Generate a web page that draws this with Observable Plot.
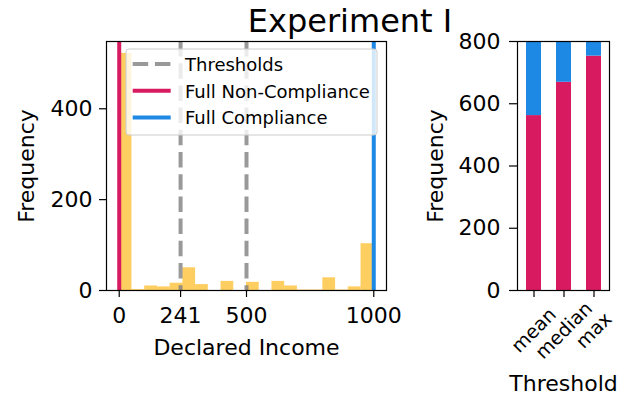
<!DOCTYPE html>
<html>
<head>
<meta charset="utf-8">
<script src="https://cdn.jsdelivr.net/npm/d3@7"></script>
<script src="https://cdn.jsdelivr.net/npm/@observablehq/plot@0.6"></script>
<style>
  html, body { margin: 0; padding: 0; background: #fff; }
  #wrap { position: relative; width: 630px; height: 399px; overflow: hidden; font-family: "DejaVu Sans", sans-serif; }
  #wrap > svg { position: absolute; left: 0; top: 0; }
</style>
</head>
<body>
<div id="wrap"></div>
<script>
// ---- Data ----
const binLower = [0, 50, 100, 150, 200, 250, 300, 350, 400, 450, 500, 550, 600, 650, 700, 750, 800, 850, 900, 950];
const binUpper = [50, 100, 150, 200, 250, 300, 350, 400, 450, 500, 550, 600, 650, 700, 750, 800, 850, 900, 950, 1000];
const binCounts = [522, 2, 10, 8, 16, 50, 13, 0, 20, 0, 18, 0, 20, 10, 1, 1, 28, 1, 8, 103];
const thresholdValues = [241, 500];
const nonComplianceIncome = [0];
const complianceIncome = [1000];
const incomeTicks = [0, 241, 500, 1000];
const freqTicksLeft = [0, 200, 400];

const thresholdNames = ["mean", "median", "max"];
const nonComplianceCounts = [562, 669, 753];
const complianceCounts = [238, 131, 47];
const freqTicksRight = [0, 200, 400, 600, 800];

const legendLabels = ["Thresholds", "Full Non-Compliance", "Full Compliance"];
const titleText = "Experiment I";

// ---- Styles ----
const RED = "#D81B60", BLUE = "#1E88E5", ORANGE = "#FFB000", GRAY = "#808080";
const FONT = "DejaVu Sans";

const hist = binCounts.map((c, i) => ({lo: binLower[i], hi: binUpper[i], count: c}));
const stacked = [];
thresholdNames.forEach((t, i) => {
  stacked.push({threshold: t, kind: "Full Non-Compliance", value: nonComplianceCounts[i]});
  stacked.push({threshold: t, kind: "Full Compliance", value: complianceCounts[i]});
});

const wrap = document.getElementById("wrap");
const baseStyle = {fontFamily: FONT, fontSize: "22px", background: "transparent", color: "#000", overflow: "visible"};

const left = Plot.plot({
  width: 630, height: 399,
  marginLeft: 106, marginRight: 244, marginTop: 41, marginBottom: 109,
  style: baseStyle,
  x: {domain: [-50, 1050]},
  y: {domain: [0, d3.max(binCounts) * 1.05]},
  marks: [
    Plot.rectY(hist, {x1: "lo", x2: "hi", y: "count", fill: ORANGE, fillOpacity: 0.62}),
    Plot.ruleX(thresholdValues, {stroke: GRAY, strokeOpacity: 0.8, strokeWidth: 4, strokeDasharray: "15.5,6.7"}),
    Plot.ruleX(nonComplianceIncome, {stroke: RED, strokeWidth: 4}),
    Plot.ruleX(complianceIncome, {stroke: BLUE, strokeWidth: 4}),
    Plot.axisX({ticks: incomeTicks, tickFormat: d => String(d), tickSize: 7, tickPadding: 10, strokeWidth: 1.2,
      label: "Declared Income", labelAnchor: "center", labelArrow: "none", labelOffset: 64}),
    Plot.axisY({ticks: freqTicksLeft, tickFormat: d => String(d), tickSize: 7, tickPadding: 7, strokeWidth: 1.2,
      label: "Frequency", labelAnchor: "center", labelArrow: "none", labelOffset: 88}),
    Plot.frame({stroke: "#000", strokeWidth: 1.2})
  ]
});
wrap.appendChild(left);

const right = Plot.plot({
  width: 630, height: 399,
  marginLeft: 517, marginRight: 21, marginTop: 41, marginBottom: 109,
  style: baseStyle,
  x: {domain: thresholdNames, paddingInner: 0.5, paddingOuter: 0.25},
  y: {domain: [0, 800]},
  color: {domain: ["Full Non-Compliance", "Full Compliance"], range: [RED, BLUE]},
  marks: [
    Plot.barY(stacked, {x: "threshold", y: "value", fill: "kind", inset: 0}),
    Plot.axisX({tickSize: 7, tickFormat: () => "", strokeWidth: 1.2,
      label: "Threshold", labelAnchor: "center", labelArrow: "none", labelOffset: 100}),
    Plot.text(thresholdNames, {x: d => d, text: d => d, frameAnchor: "bottom", dy: 40, rotate: -45,
      fontSize: 19, textAnchor: "middle", lineAnchor: "middle"}),
    Plot.axisY({ticks: freqTicksRight, tickFormat: d => String(d), tickSize: 8, tickPadding: 9, strokeWidth: 1.2,
      label: "Frequency", labelAnchor: "center", labelArrow: "none", labelOffset: 90}),
    Plot.frame({stroke: "#000", strokeWidth: 1.2})
  ]
});
wrap.appendChild(right);

// ---- Overlay: title and legend ----
const ns = "http://www.w3.org/2000/svg";
const ov = document.createElementNS(ns, "svg");
ov.setAttribute("width", 630); ov.setAttribute("height", 399);
ov.style.fontFamily = FONT;
function el(tag, attrs, parent) {
  const e = document.createElementNS(ns, tag);
  for (const k in attrs) e.setAttribute(k, attrs[k]);
  parent.appendChild(e); return e;
}
const title = el("text", {x: 350, y: 32, "text-anchor": "middle", "font-size": 32, fill: "#000"}, ov);
title.textContent = titleText;

el("rect", {x: 126, y: 49, width: 251, height: 86, rx: 3, fill: "#fff", "fill-opacity": 0.8, stroke: "#cccccc", "stroke-width": 1}, ov);
const legendStyles = [
  {stroke: GRAY, opacity: 0.8, dash: "15.5,6.7"},
  {stroke: RED, opacity: 1, dash: null},
  {stroke: BLUE, opacity: 1, dash: null}
];
legendLabels.forEach((lab, i) => {
  const cy = 64 + i * 26.7;
  const st = legendStyles[i];
  const a = {x1: 132.7, x2: 170.7, y1: cy, y2: cy, stroke: st.stroke, "stroke-width": 4, "stroke-opacity": st.opacity};
  if (st.dash) a["stroke-dasharray"] = st.dash;
  el("line", a, ov);
  const t = el("text", {x: 185, y: cy + 6.8, "font-size": 18, fill: "#000"}, ov);
  t.textContent = lab;
});
wrap.appendChild(ov);
</script>
</body>
</html>
